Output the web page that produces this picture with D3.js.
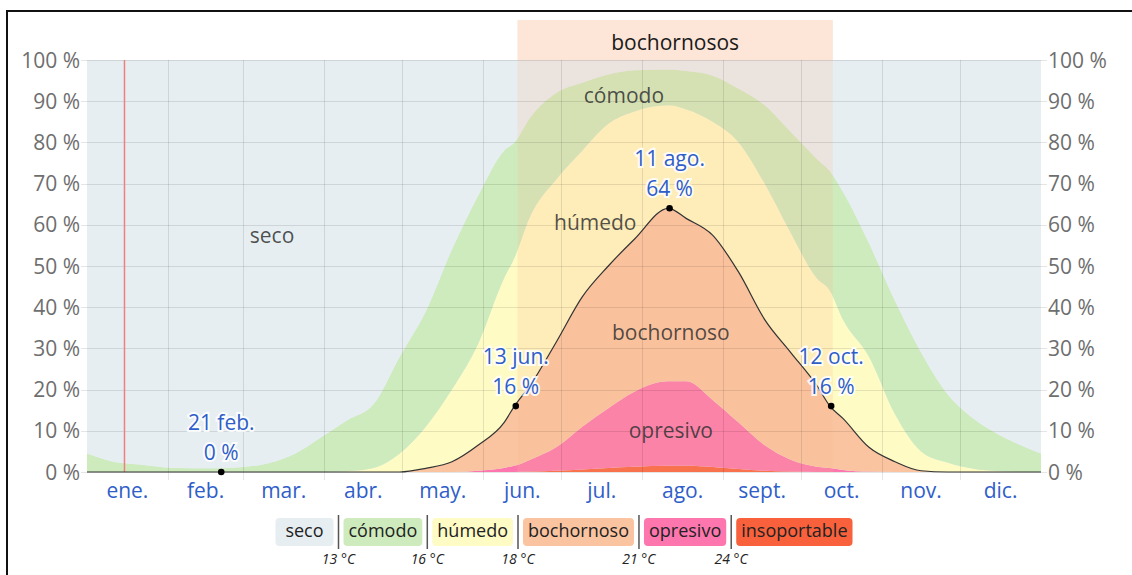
<!DOCTYPE html>
<meta charset="utf-8">
<style>
body { margin: 0; background: #fff; font-family: "Open Sans", sans-serif; }
.grid line { stroke: #000; stroke-opacity: 0.1; shape-rendering: crispEdges; }
.ylab { font-size: 21px; fill: #6e6e6e; }
.month { font-size: 21px; fill: #2f5ec9; }
.arealab { font-size: 21px; fill: #333; fill-opacity: 0.85; text-anchor: middle; }
.note { font-size: 21px; fill: #2f5ec9; text-anchor: middle; stroke: #fff; stroke-width: 4px; stroke-opacity: 0.85; paint-order: stroke; }
.legtext { font-size: 18px; fill: #222; }
.temp { font-size: 14px; font-style: italic; fill: #222; text-anchor: middle; }
</style>
<body>
<script src="https://cdn.jsdelivr.net/npm/d3@7"></script>
<script>
// sample dates (leap year, like the original chart)
var dates = ["2024-01-01","2024-01-11","2024-01-21","2024-01-31","2024-02-10","2024-02-20","2024-03-01","2024-03-11",
  "2024-03-21","2024-03-31","2024-04-10","2024-04-20","2024-04-30","2024-05-10","2024-05-20","2024-05-30",
  "2024-06-09","2024-06-13","2024-06-19","2024-06-29","2024-07-09","2024-07-19","2024-07-29","2024-08-11",
  "2024-08-18","2024-08-28","2024-09-07","2024-09-17","2024-09-27","2024-10-07","2024-10-12","2024-10-17",
  "2024-10-27","2024-11-06","2024-11-16","2024-11-26","2024-12-06","2024-12-16","2024-12-26","2025-01-01"];

// % of hours in each comfort level
var seco = [95.5,97.5,98.2,98.9,99.1,99.1,98.8,97.8,95.5,91.5,87.4,83.5,72,61,46,33,
  22,20,14,8,5.5,3.5,2.5,2.3,2.7,3.8,7,11,17.5,24,27,32,44.5,58.5,71,81,87,91,94,95.5];
var comodo = [4.5,2.5,1.8,1.1,0.9,0.9,1.2,2.2,4.5,8.5,12.4,15.5,23.5,28,34,36,
  31,28,24,21,16.5,12,10,8.7,9.3,11.2,13,19,24.5,29,29,31,27.5,27.5,24,16.7,12.2,8.8,6,4.5];
var humedo = [0,0,0,0,0,0,0,0,0,0,0.2,1,4.5,10.1,17.5,24.5,
  35,36,41,39.5,35.5,34.5,31,25,26.5,27.5,31.5,33,29,26,28,24,22,11.5,4.7,2.3,0.8,0.2,0,0];
var bochornoso = [0,0,0,0,0,0,0,0,0,0,0,0,0,0.9,2.5,6.2,
  11,14.5,18,25.5,31.5,34.5,37,42,39.5,40,36.5,30.5,26,19.7,15,12.5,5.9,2.5,0.3,0,0,0,0,0];
var opresivo = [0,0,0,0,0,0,0,0,0,0,0,0,0,0,0,0.3,
  1,1.5,2.9,5.7,10.4,14.5,18.2,20.5,20.5,16.3,11.3,6.2,2.9,1.3,1,0.5,0.1,0,0,0,0,0,0,0];
var insoportable = [0,0,0,0,0,0,0,0,0,0,0,0,0,0,0,0,
  0,0,0.1,0.3,0.6,1,1.3,1.5,1.5,1.2,0.7,0.3,0.1,0,0,0,0,0,0,0,0,0,0,0];

var monthNames = ["ene.","feb.","mar.","abr.","may.","jun.","jul.","ago.","sept.","oct.","nov.","dic."];
var yTicks = [0,10,20,30,40,50,60,70,80,90,100];
var levelKeys = ["seco","comodo","humedo","bochornoso","opresivo","insoportable"];
var levelNames = ["seco","cómodo","húmedo","bochornoso","opresivo","insoportable"];
var levelColors = ["#e6eef2","#cdebbc","#fffbc4","#fbc4a0","#fd76ae","#f8613c"];
var thresholds = ["13 °C","16 °C","18 °C","21 °C","24 °C"];

var notes = [
  {date: "2024-02-21", value: 0, label: "21 feb."},
  {date: "2024-06-13", value: 16, label: "13 jun."},
  {date: "2024-08-11", value: 64, label: "11 ago."},
  {date: "2024-10-12", value: 16, label: "12 oct."}
];
var areaLabels = [
  {date: "2024-03-12", value: 57, text: "seco"},
  {date: "2024-07-25", value: 91, text: "cómodo"},
  {date: "2024-07-14", value: 60, text: "húmedo"},
  {date: "2024-08-12", value: 33.5, text: "bochornoso"},
  {date: "2024-08-12", value: 9.5, text: "opresivo"}
];
var mugStart = "2024-06-13", mugEnd = "2024-10-12", mugLabel = "bochornosos";
var today = "2024-01-15";

var W = 1132, H = 575;
var margin = {top: 60, right: 91, bottom: 103, left: 87},
    width = W - margin.left - margin.right,
    height = H - margin.top - margin.bottom;

var parse = d3.utcParse("%Y-%m-%d");
var noon = function(s) { return d3.utcHour.offset(parse(s), 12); };

var x = d3.scaleUtc()
    .domain([parse("2024-01-01"), parse("2025-01-01")])
    .range([0, width]);
var y = d3.scaleLinear().domain([0, 100]).range([height, 0]);

var table = dates.map(function(d, i) {
  return {date: parse(d), seco: seco[i], comodo: comodo[i], humedo: humedo[i],
          bochornoso: bochornoso[i], opresivo: opresivo[i], insoportable: insoportable[i]};
});

var stackKeys = levelKeys.slice().reverse();
var layers = d3.stack().keys(stackKeys)(table);
var colorOf = {};
levelKeys.forEach(function(k, i) { colorOf[k] = levelColors[i]; });

var svg = d3.select("body").append("svg")
    .attr("width", W).attr("height", H);

// outer frame
svg.append("path")
    .attr("d", "M7," + H + "V11H" + W)
    .attr("fill", "none").attr("stroke", "#111").attr("stroke-width", 2);

var g = svg.append("g")
    .attr("transform", "translate(" + margin.left + "," + margin.top + ")");

// header band for the muggy period
var mx0 = x(parse(mugStart)) + 3, mx1 = x(parse(mugEnd)) + 3;
g.append("rect")
    .attr("x", mx0).attr("y", -40).attr("width", mx1 - mx0).attr("height", 40)
    .attr("fill", "#fde5d8");
g.append("text")
    .attr("x", (mx0 + mx1) / 2).attr("y", -16)
    .attr("text-anchor", "middle").attr("dominant-baseline", "middle")
    .style("font-size", "21px").style("fill", "#1a1a1a")
    .text(mugLabel);

// stacked areas
var area = d3.area()
    .x(function(d) { return x(d.data.date); })
    .y0(function(d) { return y(d[0]); })
    .y1(function(d) { return y(d[1]); })
    .curve(d3.curveMonotoneX);

g.append("rect").attr("width", width).attr("height", height).attr("fill", colorOf.seco);
g.selectAll(".layer")
    .data(layers)
  .enter().append("path")
    .attr("class", "layer")
    .attr("fill", function(d) { return colorOf[d.key]; })
    .attr("d", area);

// tint of the muggy period over the plot
g.append("rect")
    .attr("x", mx0).attr("y", 0).attr("width", mx1 - mx0).attr("height", height)
    .attr("fill", "#f8b990").attr("fill-opacity", 0.2);

// grid
var grid = g.append("g").attr("class", "grid");
grid.selectAll(".h")
    .data(yTicks)
  .enter().append("line")
    .attr("x1", -6).attr("x2", width + 6)
    .attr("y1", function(d) { return Math.round(y(d)) + 0.5; })
    .attr("y2", function(d) { return Math.round(y(d)) + 0.5; });
var monthStarts = d3.utcMonth.range(parse("2024-01-01"), parse("2025-01-01"));
grid.selectAll(".v")
    .data(monthStarts.slice(1))
  .enter().append("line")
    .attr("x1", function(d) { return Math.round(x(d)) + 0.5; })
    .attr("x2", function(d) { return Math.round(x(d)) + 0.5; })
    .attr("y1", 0).attr("y2", height + 8);

// today
g.append("line")
    .attr("x1", x(parse(today)) + 1).attr("x2", x(parse(today)) + 1)
    .attr("y1", 0).attr("y2", height)
    .attr("stroke", "#ee8080").attr("stroke-width", 1.5);

// line on top of the muggy share
var boch = layers[stackKeys.indexOf("bochornoso")];
g.append("path")
    .datum(boch)
    .attr("fill", "none").attr("stroke", "#333").attr("stroke-width", 1.2)
    .attr("d", d3.line()
        .x(function(d) { return x(d.data.date); })
        .y(function(d) { return y(d[1]); })
        .curve(d3.curveMonotoneX));

// area labels
g.selectAll(".arealab")
    .data(areaLabels)
  .enter().append("text")
    .attr("class", "arealab")
    .attr("x", function(d) { return x(parse(d.date)); })
    .attr("y", function(d) { return y(d.value); })
    .attr("dominant-baseline", "middle")
    .text(function(d) { return d.text; });

// annotated points
var note = g.selectAll(".pt")
    .data(notes)
  .enter().append("g");
note.append("circle")
    .attr("cx", function(d) { return x(noon(d.date)); })
    .attr("cy", function(d) { return y(d.value); })
    .attr("r", 3.3).attr("fill", "#000");
note.append("text")
    .attr("class", "note")
    .attr("x", function(d) { return x(noon(d.date)); })
    .attr("y", function(d) { return y(d.value) - 18; })
    .attr("dominant-baseline", "middle")
    .text(function(d) { return d.value + " %"; });
note.append("text")
    .attr("class", "note")
    .attr("x", function(d) { return x(noon(d.date)); })
    .attr("y", function(d) { return y(d.value) - 48; })
    .attr("dominant-baseline", "middle")
    .text(function(d) { return d.label; });

// y labels both sides
g.selectAll(".yl")
    .data(yTicks)
  .enter().append("text")
    .attr("class", "ylab")
    .attr("x", -7).attr("y", function(d) { return y(d) + 2; })
    .attr("text-anchor", "end").attr("dominant-baseline", "middle")
    .text(function(d) { return d + " %"; });
g.selectAll(".yr")
    .data(yTicks)
  .enter().append("text")
    .attr("class", "ylab")
    .attr("x", width + 7).attr("y", function(d) { return y(d) + 2; })
    .attr("text-anchor", "start").attr("dominant-baseline", "middle")
    .text(function(d) { return d + " %"; });

// month labels
g.selectAll(".month")
    .data(monthStarts)
  .enter().append("text")
    .attr("class", "month")
    .attr("x", function(d) {
      var next = d3.utcMonth.offset(d, 1);
      return (x(d) + x(next)) / 2;
    })
    .attr("y", height + 20)
    .attr("text-anchor", "middle").attr("dominant-baseline", "middle")
    .text(function(d, i) { return monthNames[i]; });

// legend
var leg = svg.append("g");
var pad = 5, gap = 5, minW = 58, boxTop = 518, boxH = 28;
var items = leg.selectAll(".li")
    .data(levelNames)
  .enter().append("g");
var texts = items.append("text")
    .attr("class", "legtext")
    .attr("y", boxTop + boxH / 2)
    .attr("dominant-baseline", "middle")
    .attr("text-anchor", "middle")
    .text(function(d) { return d; });
var cursor = 0, boxes = [], seps = [];
texts.each(function(d, i) {
  var w = Math.max(minW, this.getComputedTextLength() + 2 * pad);
  if (i > 0) { cursor += gap; seps.push(cursor); cursor += gap; }
  boxes.push({x: cursor, w: w});
  cursor += w;
});
var offset = margin.left + width / 2 - cursor / 2;
items.insert("rect", "text")
    .attr("x", function(d, i) { return offset + boxes[i].x; })
    .attr("y", boxTop).attr("width", function(d, i) { return boxes[i].w; })
    .attr("height", boxH).attr("rx", 4)
    .attr("fill", function(d, i) { return levelColors[i]; });
texts.attr("x", function(d, i) { return offset + boxes[i].x + boxes[i].w / 2; });
leg.selectAll(".sep")
    .data(seps)
  .enter().append("line")
    .attr("x1", function(d) { return offset + d; })
    .attr("x2", function(d) { return offset + d; })
    .attr("y1", boxTop - 3).attr("y2", boxTop + boxH + 3)
    .attr("stroke", "#555").attr("stroke-width", 1.5);
leg.selectAll(".temp")
    .data(thresholds)
  .enter().append("text")
    .attr("class", "temp")
    .attr("x", function(d, i) { return offset + seps[i]; })
    .attr("y", 560)
    .attr("dominant-baseline", "middle")
    .text(function(d) { return d; });
</script>
</body>
